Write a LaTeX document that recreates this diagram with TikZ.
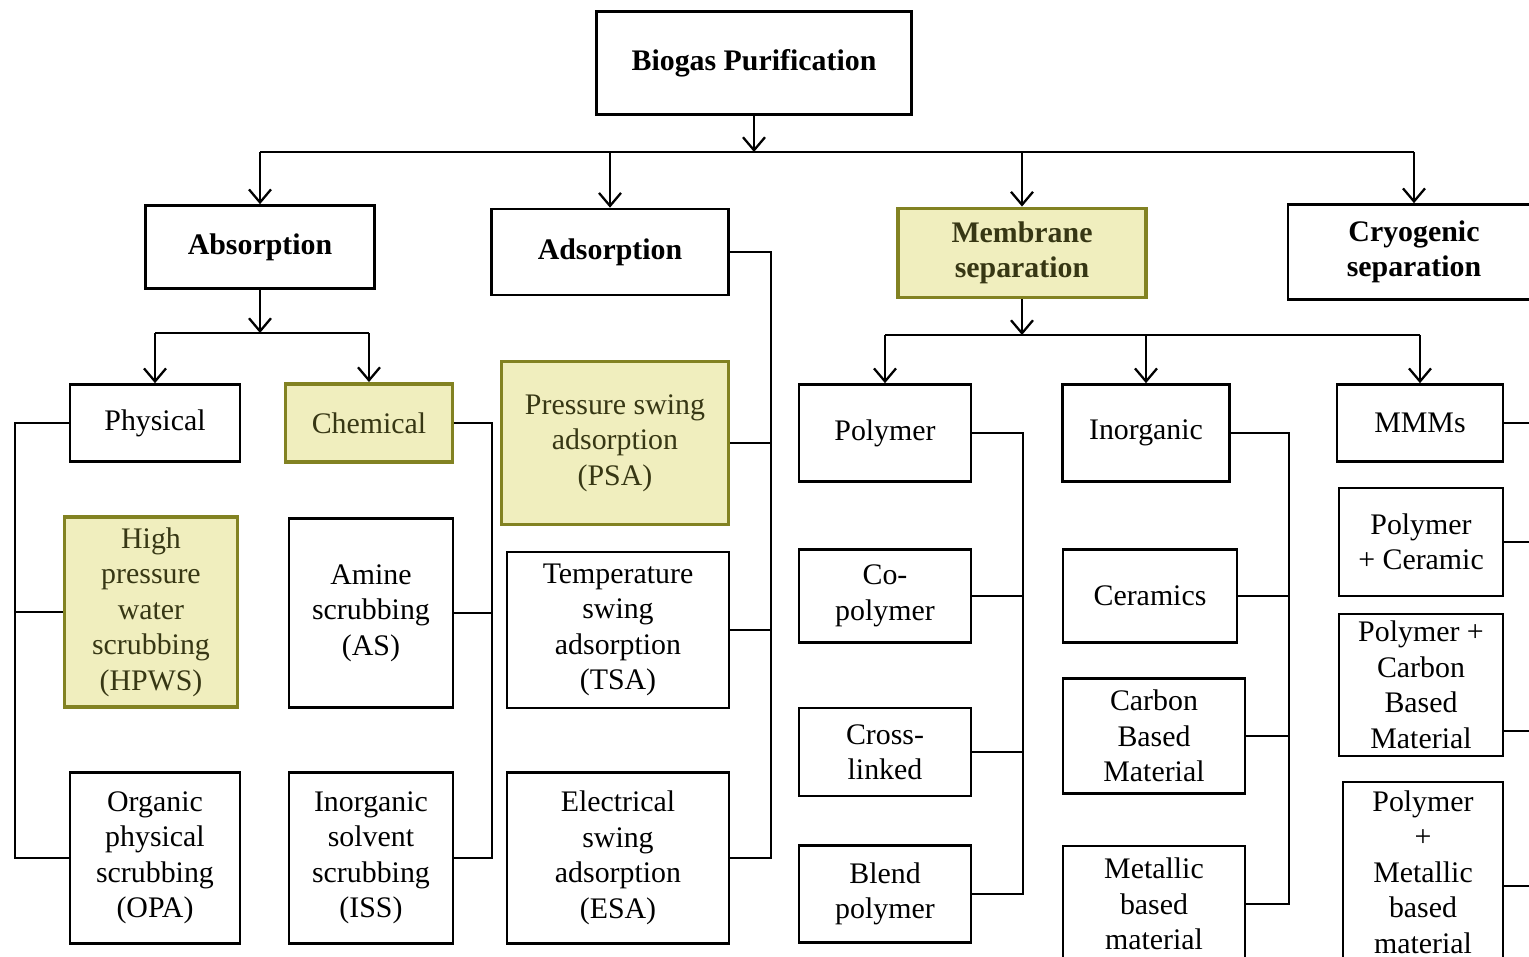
\documentclass[tikz,border=0pt]{standalone}
\usepackage{fontspec}
\setmainfont{Liberation Serif}
\usetikzlibrary{arrows.meta}

\definecolor{hlfill}{RGB}{240,238,190}
\definecolor{hldraw}{RGB}{130,130,34}
\definecolor{hltext}{RGB}{55,55,20}

\begin{document}
\begin{tikzpicture}[x=0.02cm, y=-0.02cm,
    >={Straight Barb[length=2.6mm,width=4.4mm]},
    line width=1.3pt,
    box/.style={draw, rectangle, align=center, inner sep=2pt, line width=1.5pt,
                font=\fontsize{17}{20.2}\selectfont},
    hl/.style={box, fill=hlfill, draw=hldraw, text=hltext, line width=2.2pt},
    head/.style={font=\fontsize{17}{20.2}\selectfont\bfseries},
    wh/.style 2 args={minimum width=#1*0.02cm, minimum height=#2*0.02cm}]

    \useasboundingbox (0,0) rectangle (1529,957);
    \clip (0,0) rectangle (1529,957);

    % === top ===
    \node[box, head, wh={315}{103}] (top) at (754,63) {Biogas Purification};

    % === second row: the four methods ===
    \node[box, head, wh={229}{83}] (absb) at (260,247) {Absorption};
    \node[box, head, wh={237}{86}] (adso) at (610,252) {Adsorption};
    \node[hl, head, wh={248}{89}]  (memb) at (1022,253) {Membrane\\separation};
    \node[box, head, wh={252}{95}] (cryo) at (1414,252) {Cryogenic\\separation};

    % === absorption ===
    \node[box, wh={170}{77}]  (phys)  at (155,423) {Physical};
    \node[hl, wh={167}{78}]   (chem)  at (369,423) {Chemical};
    \node[hl, wh={173}{190}]  (hpws)  at (151,612) {High\\pressure\\water\\scrubbing\\(HPWS)};
    \node[box, wh={164}{189}] (amine) at (371,613) {Amine\\scrubbing\\(AS)};
    \node[box, wh={170}{171}] (opa)   at (155,858) {Organic\\physical\\scrubbing\\(OPA)};
    \node[box, wh={164}{171}] (iss)   at (371,858) {Inorganic\\solvent\\scrubbing\\(ISS)};

    % === adsorption ===
    \node[hl, wh={227}{163}]  (psa) at (615,443) {Pressure swing\\adsorption\\(PSA)};
    \node[box, wh={222}{156}] (tsa) at (618,630) {Temperature\\swing\\adsorption\\(TSA)};
    \node[box, wh={222}{171}] (esa) at (618,858) {Electrical\\swing\\adsorption\\(ESA)};

    % === membrane: polymer ===
    \node[box, wh={172}{97}] (poly)   at (885,433) {Polymer};
    \node[box, wh={172}{93}] (copoly) at (885,596) {Co-\\polymer};
    \node[box, wh={172}{88}] (cross)  at (885,752) {Cross-\\linked};
    \node[box, wh={172}{97}] (blend)  at (885,894) {Blend\\polymer};

    % === membrane: inorganic ===
    \node[box, wh={167}{97}]  (inorg)  at (1146,433) {Inorganic};
    \node[box, wh={174}{93}]  (ceram)  at (1150,596) {Ceramics};
    \node[box, wh={182}{115}] (carbon) at (1154,736) {Carbon\\Based\\Material};
    \node[box, wh={182}{116}] (metal)  at (1154,904) {Metallic\\based\\material};

    % === membrane: MMMs ===
    \node[box, wh={166}{77}]  (mmm) at (1420,423) {MMMs};
    \node[box, wh={164}{108}] (pc)  at (1421,542) {Polymer\\+ Ceramic};
    \node[box, wh={164}{142}] (pcb) at (1421,685) {Polymer +\\Carbon\\Based\\Material};
    \node[box, wh={160}{180}] (pm)  at (1423,872) {Polymer\\+\\Metallic\\based\\material};

    % === arrows down ===
    \coordinate (bar1) at (754,152);
    \coordinate (bar2) at (256,333);
    \coordinate (bar3) at (1022,335);

    \draw[->] (top) -- (bar1);
    \draw (absb |- bar1) -- (cryo |- bar1);
    \foreach \n in {absb,adso,memb,cryo}
        \draw[->] (\n |- bar1) -- (\n);

    \draw[->] (absb) -- (absb |- bar2);
    \draw (phys |- bar2) -- (chem |- bar2);
    \foreach \n in {phys,chem}
        \draw[->] (\n |- bar2) -- (\n);

    \draw[->] (memb) -- (memb |- bar3);
    \draw (poly |- bar3) -- (mmm |- bar3);
    \foreach \n in {poly,inorg,mmm}
        \draw[->] (\n |- bar3) -- (\n);

    % === side brackets ===
    \coordinate (spA) at (15,0);
    \coordinate (spB) at (492,0);
    \coordinate (spC) at (771,0);
    \coordinate (spD) at (1023,0);
    \coordinate (spE) at (1289,0);
    \coordinate (spF) at (1550,0);

    \draw (phys) -- (phys -| spA) -- (opa -| spA) -- (opa);
    \draw (hpws) -- (hpws -| spA);

    \draw (chem) -- (chem -| spB) -- (iss -| spB) -- (iss);
    \draw (amine) -- (amine -| spB);

    \draw (adso) -- (adso -| spC) -- (esa -| spC) -- (esa);
    \foreach \n in {psa,tsa}
        \draw (\n) -- (\n -| spC);

    \draw (poly) -- (poly -| spD) -- (blend -| spD) -- (blend);
    \foreach \n in {copoly,cross}
        \draw (\n) -- (\n -| spD);

    \draw (inorg) -- (inorg -| spE) -- (metal -| spE) -- (metal);
    \foreach \n in {ceram,carbon}
        \draw (\n) -- (\n -| spE);

    \coordinate (pcbR) at ([yshift=-0.92cm]pcb.east);
    \coordinate (pmR) at ([yshift=-0.28cm]pm.east);
    \draw (mmm) -- (mmm -| spF) -- (pmR -| spF) -- (pmR);
    \draw (pc) -- (pc -| spF);
    \draw (pcbR) -- (pcbR -| spF);

\end{tikzpicture}
\end{document}
